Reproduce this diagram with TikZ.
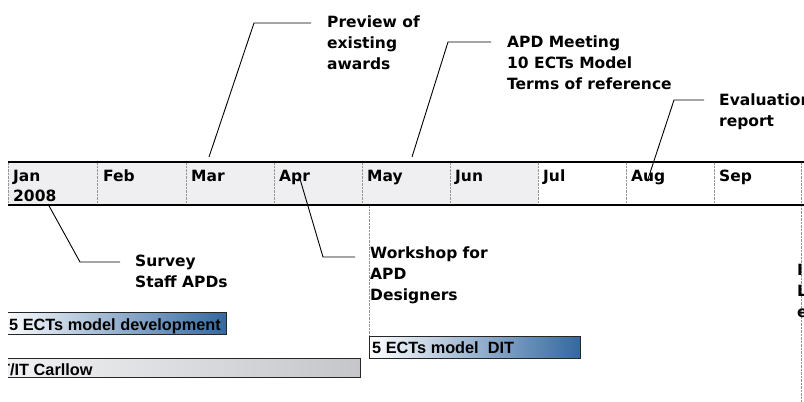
\documentclass[tikz,border=0pt]{standalone}
\usepackage{fontspec}
\setmainfont{DejaVu Sans}
\newfontfamily\barfont{Liberation Sans}
\definecolor{bandgrey}{RGB}{239,239,241}
\definecolor{barblue}{RGB}{52,104,160}
\definecolor{bargreyL}{RGB}{242,242,244}
\definecolor{bargreyR}{RGB}{196,198,202}
\definecolor{sepgrey}{RGB}{150,150,150}
\begin{document}
\begin{tikzpicture}[x=1pt,y=-1pt,
  lbl/.style={anchor=base west,inner sep=0pt,font=\bfseries\fontsize{15.5}{21}\selectfont},
  month/.style={anchor=base west,inner sep=0pt,font=\bfseries\fontsize{15.5}{20}\selectfont},
  bartext/.style={anchor=base west,inner sep=0pt,font=\barfont\bfseries\fontsize{16.3}{18}\selectfont},
  leader/.style={draw=black,line width=0.9pt},
  sepline/.style={draw=sepgrey,dash pattern=on 2.5pt off 1pt,line width=1pt},
  bandline/.style={draw=black,line width=1.8pt},
  bluebar/.style={left color=white,right color=barblue,draw=black!85,line width=0.9pt},
  greybar/.style={left color=bargreyL,right color=bargreyR,draw=black!85,line width=0.9pt}]
\clip (0,0) rectangle (804,402);
\fill[white] (0,0) rectangle (804,402);
% band
\fill[bandgrey] (8,162) rectangle (538,205);
\foreach \x in {8,97,186,274,362,450,538,626,714}{
  \draw[sepline] (\x,162) -- (\x,205);
}
\draw[sepline] (801,162) -- (801,402);
\draw[sepline] (369,205) -- (369,336);
\draw[bandline] (8,162) -- (804,162);
\draw[bandline] (8,205) -- (804,205);
% months
\node[month] (m1) at (13,181) {\begin{tabular}[t]{@{}l@{}}Jan\\2008\end{tabular}};
\node[month] (m2) at (103,181) {Feb};
\node[month] (m3) at (191,181) {Mar};
\node[month] (m4) at (279,181) {Apr};
\node[month] (m5) at (367,181) {May};
\node[month] (m6) at (455,181) {Jun};
\node[month] (m7) at (543,181) {Jul};
\node[month] (m8) at (631,181) {Aug};
\node[month] (m9) at (719,181) {Sep};
% callouts above
\node[lbl] (prev) at (327,27) {\begin{tabular}[t]{@{}l@{}}Preview of\\existing\\awards\end{tabular}};
\coordinate (prevK) at (254,23);
\coordinate (prevT) at (209,157);
\draw[leader] ([shift={(-16,-4)}]prev.base west) -- (prevK) -- (prevT);
\node[lbl] (apd) at (507,47) {\begin{tabular}[t]{@{}l@{}}APD Meeting\\10 ECTs Model\\Terms of reference\end{tabular}};
\coordinate (apdK) at (448,42);
\coordinate (apdT) at (412,157);
\draw[leader] ([shift={(-16,-5)}]apd.base west) -- (apdK) -- (apdT);
\node[lbl] (eval) at (719,105) {\begin{tabular}[t]{@{}l@{}}Evaluation\\report\end{tabular}};
\coordinate (evalK) at (674,100);
\coordinate (evalT) at (648,179);
\draw[leader] ([shift={(-15,-5)}]eval.base west) -- (evalK) -- (evalT);
% callouts below
\node[lbl] (surv) at (135,266) {\begin{tabular}[t]{@{}l@{}}Survey\\Staff APDs\end{tabular}};
\coordinate (survK) at (80,262);
\coordinate (survT) at (48,204);
\draw[leader] ([shift={(-15,-4)}]surv.base west) -- (survK) -- (survT);
\node[lbl] (work) at (370,258) {\begin{tabular}[t]{@{}l@{}}Workshop for\\APD\\Designers\end{tabular}};
\coordinate (workK) at (323,257);
\coordinate (workT) at (300,179);
\draw[leader] ([shift={(-15,-1)}]work.base west) -- (workK) -- (workT);
\node[lbl] (right) at (797,275) {\begin{tabular}[t]{@{}l@{}}I\\L\\e\end{tabular}};
% bars
\begin{scope}
\clip (8,0) rectangle (804,402);
\shade[bluebar] (0,312) rectangle (226,334);
\node[bartext] (b1) at (9,330) {5 ECTs model development};
\shade[greybar] (0,358) rectangle (360,377);
\node[bartext] (b2) at (0,375) {T/IT Carllow};
\end{scope}
\shade[bluebar] (369,336) rectangle (580,358);
\node[bartext] (b3) at (372,353) {5 ECTs model\ \ DIT};
\end{tikzpicture}
\end{document}
